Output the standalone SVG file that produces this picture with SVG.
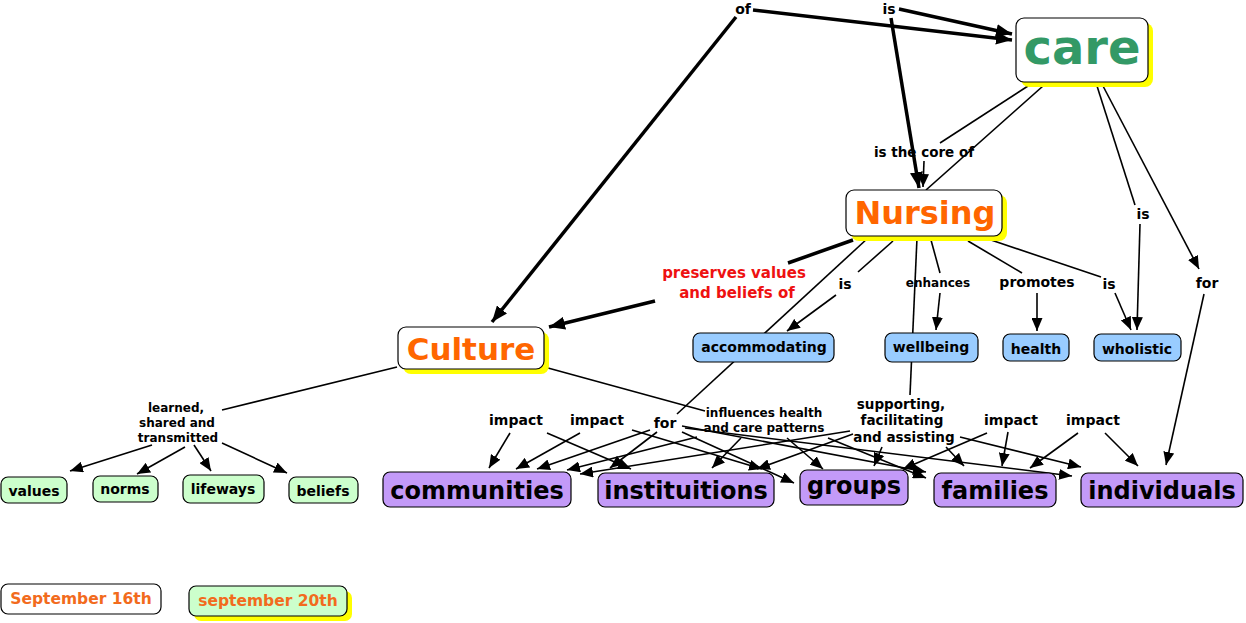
<svg xmlns="http://www.w3.org/2000/svg" width="1246" height="623" viewBox="0 0 1246 623">
<defs>
<marker id="ah" markerUnits="userSpaceOnUse" markerWidth="13" markerHeight="11" refX="13" refY="5.5" orient="auto"><path d="M0,0 L13,5.5 L0,11 z" fill="#000"/></marker>
<marker id="ahb" markerUnits="userSpaceOnUse" markerWidth="16" markerHeight="13" refX="16" refY="6.5" orient="auto"><path d="M0,0 L16,6.5 L0,13 z" fill="#000"/></marker>
</defs>
<style>
text{font-family:"DejaVu Sans","Liberation Sans",sans-serif;font-weight:bold;text-anchor:middle}
.c{stroke:#000;stroke-width:1.6;fill:none}
.t{stroke:#000;stroke-width:3.5;fill:none}
.a{marker-end:url(#ah)}
.b{marker-end:url(#ahb)}
.box{stroke:#000;stroke-width:1.2}
.sh{fill:#FFFF00}
.w{fill:#fff}
.blue{fill:#99CCFF}
.green{fill:#CCFFCC}
.purple{fill:#C39AF8}
.lk{font-size:14px;fill:#000}
.sm{font-size:12px;fill:#000}
.or{fill:#FF6600}
.red{font-size:15px;fill:#EE1111}
</style>
<g id="connectors">
<path class="t b" d="M736,17 L492,322"/>
<path class="t b" d="M753,10 L1012,40"/>
<path class="t b" d="M899,9 L1012,34"/>
<path class="t b" d="M891,18 L919,188"/>
<path class="t" d="M853,240 L788,263"/>
<path class="t b" d="M655,301 L549,327"/>
<path class="c" d="M1028,86 L940,143"/>
<path class="c a" d="M924,161 L923,187"/>
<path class="c" d="M1043,86 L926,190"/>
<path class="c" d="M1097,86 L1135,205"/>
<path class="c a" d="M1140,224 L1137,330"/>
<path class="c a" d="M1103,86 L1199,269"/>
<path class="c a" d="M1204,294 L1166,465"/>
<path class="c" d="M868,238 L677,414"/>
<path class="c" d="M893,241 L858,272"/>
<path class="c a" d="M836,295 L787,331"/>
<path class="c" d="M931,240 L940,273"/>
<path class="c a" d="M940,293 L936,330"/>
<path class="c" d="M968,241 L1022,273"/>
<path class="c a" d="M1037,293 L1037,331"/>
<path class="c" d="M991,240 L1101,277"/>
<path class="c a" d="M1115,293 L1131,330"/>
<path class="c" d="M917,238 L910,395"/>
<path class="c" d="M397,367 L222,410"/>
<path class="c a" d="M152,445 L70,471"/>
<path class="c a" d="M185,447 L137,474"/>
<path class="c a" d="M194,445 L211,471"/>
<path class="c a" d="M222,443 L287,473"/>
<path class="c" d="M548,368 L705,411"/>
<path class="c a" d="M510,433 L489,468"/>
<path class="c a" d="M547,433 L631,469"/>
<path class="c a" d="M580,433 L516,469"/>
<path class="c a" d="M632,430 L762,469"/>
<path class="c a" d="M650,430 L537,469"/>
<path class="c a" d="M657,432 L610,468"/>
<path class="c a" d="M682,432 L794,483"/>
<path class="c a" d="M682,426 L926,472"/>
<path class="c a" d="M685,428 L1072,476"/>
<path class="c a" d="M697,437 L567,470"/>
<path class="c a" d="M741,438 L712,468"/>
<path class="c a" d="M787,438 L823,469"/>
<path class="c a" d="M828,438 L926,478"/>
<path class="c a" d="M850,431 L580,474"/>
<path class="c a" d="M853,434 L757,469"/>
<path class="c a" d="M882,447 L874,466"/>
<path class="c a" d="M946,447 L964,466"/>
<path class="c a" d="M960,437 L1081,467"/>
<path class="c a" d="M987,433 L903,469"/>
<path class="c a" d="M1008,432 L1002,466"/>
<path class="c a" d="M1078,433 L1030,468"/>
<path class="c a" d="M1105,433 L1138,466"/>
</g>
<g id="labels">
<text class="lk" x="743" y="14">of</text>
<text class="lk" x="889" y="14">is</text>
<text class="lk" x="924" y="157" style="font-size:13.5px">is the core of</text>
<text class="lk" x="1143" y="219">is</text>
<text class="lk" x="1207" y="288">for</text>
<text class="red" x="734" y="278">preserves values</text>
<text class="red" x="737" y="298">and beliefs of</text>
<text class="lk" x="845" y="289">is</text>
<text class="sm" x="938" y="287">enhances</text>
<text class="lk" x="1037" y="287">promotes</text>
<text class="lk" x="1109" y="289">is</text>
<text class="sm" x="176" y="412">learned,</text>
<text class="sm" x="177" y="427">shared and</text>
<text class="sm" x="178" y="442">transmitted</text>
<text class="lk" x="516" y="425">impact</text>
<text class="lk" x="597" y="425">impact</text>
<text class="lk" x="665" y="428">for</text>
<text class="sm" x="764" y="417">influences health</text>
<text class="sm" x="764" y="432">and care patterns</text>
<text class="lk" x="901" y="409" style="font-size:13.5px">supporting,</text>
<text class="lk" x="902" y="425" style="font-size:13.5px">facilitating</text>
<text class="lk" x="904" y="442" style="font-size:13.5px">and assisting</text>
<text class="lk" x="1011" y="425">impact</text>
<text class="lk" x="1093" y="425">impact</text>
</g>
<g id="care">
<rect class="sh" x="1021" y="23" width="132" height="64" rx="8"/>
<rect class="box w" x="1016" y="18" width="132" height="64" rx="8"/>
<text x="1082" y="64" style="font-size:48px;fill:#339966">care</text>
</g>
<g id="nursing">
<rect class="sh" x="851" y="195" width="156" height="46" rx="8"/>
<rect class="box w" x="846" y="190" width="156" height="46" rx="8"/>
<text class="or" x="925" y="224" style="font-size:32px">Nursing</text>
</g>
<g id="culture">
<rect class="sh" x="403" y="332" width="146" height="42" rx="8"/>
<rect class="box w" x="398" y="327" width="146" height="42" rx="8"/>
<text class="or" x="471" y="360" style="font-size:31px">Culture</text>
</g>
<g id="accommodating"><rect class="box blue" x="693" y="333" width="141" height="29" rx="7"/><text class="lk" x="764" y="352">accommodating</text></g>
<g id="wellbeing"><rect class="box blue" x="885" y="333" width="93" height="29" rx="7"/><text class="lk" x="931" y="352">wellbeing</text></g>
<g id="health"><rect class="box blue" x="1003" y="334" width="66" height="27" rx="7"/><text class="lk" x="1036" y="354">health</text></g>
<g id="wholistic"><rect class="box blue" x="1094" y="334" width="87" height="27" rx="7"/><text class="lk" x="1137" y="354">wholistic</text></g>
<g id="values"><rect class="box green" x="1" y="477" width="66" height="26" rx="7"/><text class="lk" x="34" y="496">values</text></g>
<g id="norms"><rect class="box green" x="93" y="476" width="65" height="26" rx="7"/><text class="lk" x="125" y="494">norms</text></g>
<g id="lifeways"><rect class="box green" x="183" y="475" width="81" height="28" rx="7"/><text class="lk" x="223" y="494">lifeways</text></g>
<g id="beliefs"><rect class="box green" x="289" y="477" width="69" height="26" rx="7"/><text class="lk" x="323" y="496">beliefs</text></g>
<g id="communities"><rect class="box purple" x="383" y="472" width="188" height="35" rx="7"/><text x="477" y="499" style="font-size:24px">communities</text></g>
<g id="instituitions"><rect class="box purple" x="598" y="473" width="176" height="34" rx="7"/><text x="686" y="499" style="font-size:24px">instituitions</text></g>
<g id="groups"><rect class="box purple" x="800" y="470" width="108" height="35" rx="7"/><text x="854" y="494" style="font-size:24px">groups</text></g>
<g id="families"><rect class="box purple" x="934" y="473" width="122" height="34" rx="7"/><text x="995" y="499" style="font-size:24px">families</text></g>
<g id="individuals"><rect class="box purple" x="1081" y="473" width="162" height="34" rx="7"/><text x="1162" y="499" style="font-size:24px">individuals</text></g>
<g id="sept16"><rect class="box w" x="1" y="584" width="160" height="30" rx="7"/><text x="81" y="604" style="font-size:15.5px;fill:#F26B1D">September 16th</text></g>
<g id="sept20">
<rect class="sh" x="194" y="591" width="158" height="30" rx="7"/>
<rect class="box green" x="189" y="586" width="158" height="30" rx="7"/>
<text x="268" y="606" style="font-size:15.5px;fill:#F26B1D">september 20th</text>
</g>
</svg>
